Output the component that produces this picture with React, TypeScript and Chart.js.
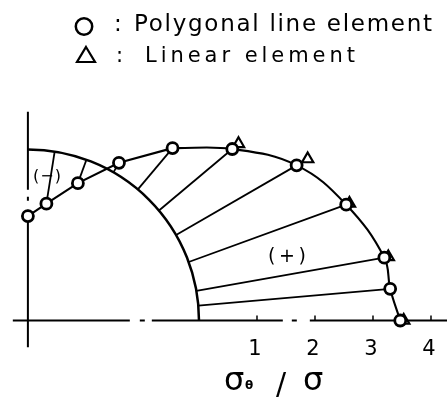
import React, { useEffect, useRef } from "react";
import { Chart, registerables } from "chart.js";

Chart.register(...registerables);

// Node positions on the hole boundary, degrees measured from the load axis
const nodeAngles = [90, 81, 70, 60, 50, 40, 30, 20, 10, 5, 0];
// σθ/σ at each node, polygonal line elements (○)
const polygonalStress = [-1.15, -0.91, -0.43, 0.19, 0.93, 1.65, 2.4, 2.89, 3.29, 3.32, 3.47];
// σθ/σ from linear elements (△)
const linearAngles = [40, 30, 20, 10, 0];
const linearStress = [1.79, 2.62, 2.95, 3.36, 3.53];
// Scale ticks along the load axis
const xTickValues = [1, 2, 3, 4];
const xTickLabels = ["1", "2", "3", "4"];
// Hole radius expressed in σθ/σ units of the plot
const holeRadius = 2.95;

const legendCircle = "Polygonal line element";
const legendTriangle = "Linear element";

const FONT = '"DejaVu Sans", sans-serif';

// stress is drawn outward (or inward) from the hole edge along the radius
const polar = (deg: number, s: number) => {
  const a = (deg * Math.PI) / 180;
  const r = holeRadius + s;
  return { x: r * Math.cos(a) - holeRadius, y: r * Math.sin(a) };
};

const spacedText = (
  ctx: CanvasRenderingContext2D,
  text: string,
  x: number,
  y: number,
  width: number
) => {
  const c = ctx as any;
  c.letterSpacing = "0px";
  const w = ctx.measureText(text).width;
  const sp = Math.max(0, (width - w) / Math.max(1, text.length - 1));
  c.letterSpacing = `${sp}px`;
  ctx.fillText(text, x, y);
  c.letterSpacing = "0px";
};

const decorations = {
  id: "holeDecorations",
  beforeDatasetsDraw(chart: any) {
    const { ctx, scales } = chart;
    const xs = scales.x;
    const ys = scales.y;
    const cx = xs.getPixelForValue(-holeRadius);
    const cy = ys.getPixelForValue(0);
    const rPx = xs.getPixelForValue(0) - cx;
    ctx.save();
    ctx.strokeStyle = "#000";
    ctx.lineCap = "butt";

    // load axis (chain line)
    const xLeft = xs.getPixelForValue(-holeRadius - 0.26);
    ctx.lineWidth = 2;
    ctx.setLineDash([117, 10, 5, 7, 131, 9, 5, 13, 400]);
    ctx.beginPath();
    ctx.moveTo(xLeft, cy);
    ctx.lineTo(chart.width, cy);
    ctx.stroke();

    // symmetry axis (chain line)
    const yTop = ys.getPixelForValue(3.6);
    const yBottom = ys.getPixelForValue(-0.46);
    ctx.setLineDash([78, 7, 4, 9, 400]);
    ctx.beginPath();
    ctx.moveTo(cx, yTop);
    ctx.lineTo(cx, yBottom);
    ctx.stroke();
    ctx.setLineDash([]);

    // tick marks
    ctx.lineWidth = 1.5;
    xTickValues.forEach((v) => {
      const px = xs.getPixelForValue(v);
      ctx.beginPath();
      ctx.moveTo(px, cy);
      ctx.lineTo(px, cy - 5);
      ctx.stroke();
    });

    // hole boundary
    ctx.lineWidth = 2.5;
    ctx.beginPath();
    ctx.arc(cx, cy, rPx, -Math.PI / 2, 0);
    ctx.stroke();
    ctx.restore();
  },
  afterDraw(chart: any) {
    const { ctx, scales } = chart;
    const xs = scales.x;
    ctx.save();
    ctx.fillStyle = "#000";
    ctx.strokeStyle = "#000";
    ctx.textBaseline = "alphabetic";

    // legend
    ctx.lineWidth = 2.5;
    ctx.beginPath();
    ctx.arc(84, 26.5, 8.2, 0, Math.PI * 2);
    ctx.stroke();
    ctx.lineWidth = 2.2;
    ctx.beginPath();
    ctx.moveTo(86, 47);
    ctx.lineTo(95, 62);
    ctx.lineTo(77, 62);
    ctx.closePath();
    ctx.stroke();

    ctx.font = `23px ${FONT}`;
    ctx.textAlign = "left";
    ctx.fillText(":", 114, 31);
    spacedText(ctx, legendCircle, 134, 31, 298);
    ctx.font = `21px ${FONT}`;
    ctx.fillText(":", 116, 62);
    spacedText(ctx, legendTriangle, 145, 62, 210);

    // tick labels
    ctx.font = `21px ${FONT}`;
    ctx.textAlign = "center";
    xTickValues.forEach((v, i) => {
      ctx.fillText(xTickLabels[i], xs.getPixelForValue(v) - 2, 355);
    });

    // axis title σθ / σ
    ctx.textAlign = "left";
    ctx.font = `32px ${FONT}`;
    ctx.fillText("σ", 224, 390);
    ctx.font = `bold 12px ${FONT}`;
    ctx.fillText("θ", 245, 389);
    ctx.font = `30px ${FONT}`;
    ctx.textAlign = "center";
    ctx.fillText("/", 281, 394);
    ctx.textAlign = "left";
    ctx.font = `32px ${FONT}`;
    ctx.fillText("σ", 303, 390);

    // sign labels
    ctx.font = `19px ${FONT}`;
    ctx.textAlign = "left";
    spacedText(ctx, "(+)", 268, 262, 38);
    ctx.font = `16px ${FONT}`;
    spacedText(ctx, "(−)", 33, 181, 28);
    ctx.restore();
  },
};

export default function App() {
  const canvasRef = useRef<HTMLCanvasElement | null>(null);

  useEffect(() => {
    document.body.style.margin = "0";
    const canvas = canvasRef.current;
    if (!canvas) return;

    const nodes = nodeAngles.map((a, i) => polar(a, polygonalStress[i]));
    const linear = linearAngles.map((a, i) => polar(a, linearStress[i]));

    // radial stress bars from the hole edge to each plotted value
    const radials = nodeAngles
      .map((a, i) => ({ a, i }))
      .filter(({ i }) => i > 0 && i < nodeAngles.length - 1)
      .map(({ a, i }) => ({
        data: [polar(a, 0), polar(a, polygonalStress[i])],
        showLine: true,
        borderColor: "#000",
        borderWidth: 1.8,
        pointRadius: 0,
        order: 3,
      }));

    const chart = new Chart(canvas, {
      type: "scatter",
      data: {
        datasets: [
          {
            label: legendCircle,
            data: nodes,
            pointStyle: "circle",
            pointRadius: 5.5,
            borderWidth: 2.8,
            borderColor: "#000",
            backgroundColor: "#fff",
            order: 0,
          },
          {
            label: legendTriangle,
            data: linear,
            pointStyle: "triangle",
            pointRadius: 6.5,
            borderWidth: 2.2,
            borderColor: "#000",
            backgroundColor: "#fff",
            order: 1,
          },
          {
            data: nodes.slice(0, 5),
            showLine: true,
            tension: 0,
            borderColor: "#000",
            borderWidth: 2.1,
            pointRadius: 0,
            order: 2,
          },
          {
            data: nodes.slice(4),
            showLine: true,
            tension: 0.4,
            borderColor: "#000",
            borderWidth: 2.1,
            pointRadius: 0,
            order: 2,
          },
          ...radials,
        ] as any,
      },
      options: {
        animation: false,
        responsive: false,
        events: [],
        layout: { padding: 0, autoPadding: false },
        plugins: {
          legend: { display: false },
          tooltip: { enabled: false },
        },
        scales: {
          x: { type: "linear", display: false, min: -3.431, max: 4.276 },
          y: { type: "linear", display: false, min: -1.353, max: 5.526 },
        },
      },
      plugins: [decorations],
    });

    return () => chart.destroy();
  }, []);

  return (
    <div style={{ width: 447, height: 399, background: "#fff" }}>
      <canvas ref={canvasRef} width={447} height={399} />
    </div>
  );
}
